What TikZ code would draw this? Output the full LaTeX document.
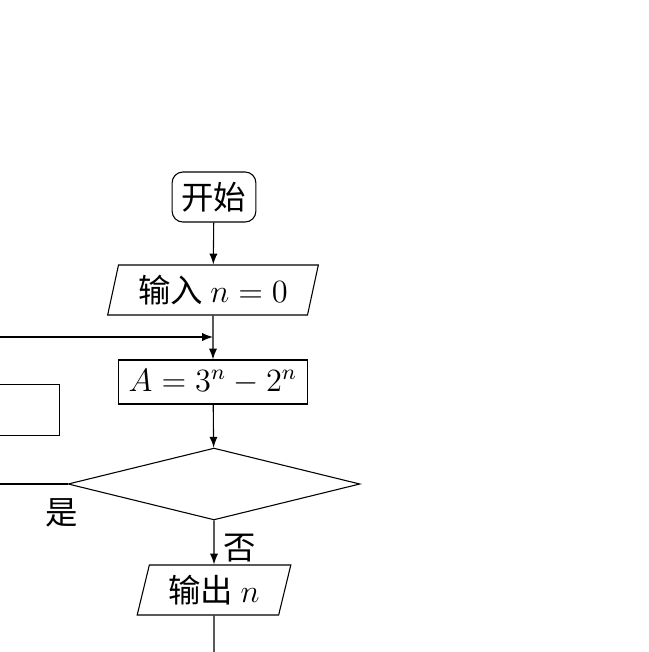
\documentclass[tikz,border=0pt]{standalone}
\usepackage{fontspec}
\usepackage{amsmath}
\newfontfamily\cjk{Noto Sans CJK SC}
\usetikzlibrary{shapes.geometric}

\tikzset{
    flow/.style={draw, inner sep=0pt},
    startstop/.style={flow, rounded corners=4pt, minimum width=31pt, minimum height=18.5pt},
    io/.style={flow, trapezium, trapezium left angle=74, trapezium right angle=106, trapezium stretches=true, minimum height=18.5pt},
    process/.style={flow, minimum width=70pt, minimum height=16.3pt},
    decision/.style={flow, diamond, aspect=4, minimum width=108pt, minimum height=26.6pt},
    line/.style={-latex}
}

\begin{document}
\begin{tikzpicture}[x=0.37pt, y=-0.37pt, font=\cjk\large]
    \useasboundingbox (0,0) rectangle (649,652);

    \node[startstop] (start) at (214,197) {开始};
    \node[io, minimum width=78pt] (input) at (213,290) {输入 $n=0$};
    \node[process] (calc) at (213,382) {$A=3^n-2^n$};
    \node[decision] (test) at (214,484) {};
    \node[io, minimum width=57pt] (output) at (214,590) {输出 $n$};
    \node[flow, minimum width=66pt, minimum height=19.2pt] (step) at (-30,410) {};
    \coordinate (stop) at (214,700);
    \coordinate (join) at (213,337);

    \draw[line] (start) -- (input);
    \draw[line] (input) -- (calc);
    \draw[line] (calc) -- (test);
    \draw[line] (test) -- node[right, yshift=-2pt] {否} (output);
    \draw[line] (output) -- (stop);
    \draw[line] (test.west) -- node[below, pos=0, xshift=-2pt, yshift=-2pt] {是} (-30,484) -- (step);
    \draw[line] (step) -- (-30,337) -- (join);
\end{tikzpicture}
\end{document}
